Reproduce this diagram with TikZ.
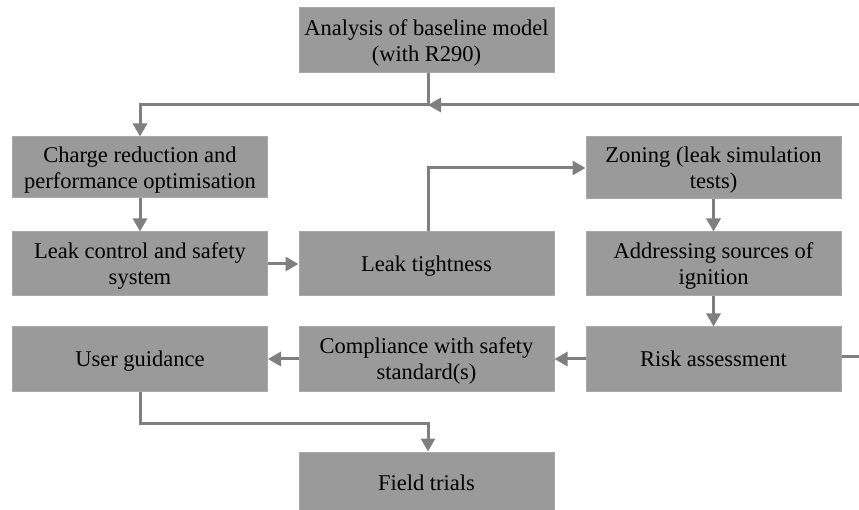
\documentclass[tikz,border=0pt]{standalone}
\usepackage{fontspec}
\setmainfont{Liberation Serif}
\usetikzlibrary{arrows.meta}
\definecolor{boxfill}{HTML}{9A9A9A}
\definecolor{boxedge}{HTML}{A8A8A8}
\definecolor{linec}{HTML}{7F7F7F}
\tikzset{
  box/.style={draw=boxedge, line width=1pt, fill=boxfill, minimum width=255pt, minimum height=62pt,
    align=center, inner sep=2pt, font=\fontsize{22.5}{26}\selectfont, text=black, text depth=0pt},
  conn/.style={draw=linec, line width=3pt},
  arr/.style={conn, -{Triangle[length=13pt,width=14pt]}}
}
\begin{document}
\begin{tikzpicture}[x=1pt,y=-1pt]
\useasboundingbox (0,0) rectangle (859,510);
\begin{scope}
\clip (0,0) rectangle (859,510);
\node[box, minimum height=65pt] (top) at (426.5,40.5) {Analysis of baseline model\\(with R290)};
\node[box, minimum height=61pt] (charge) at (140,167.5) {Charge reduction and\\performance optimisation};
\node[box, minimum height=62pt] (zoning) at (713.5,168) {Zoning (leak simulation\\tests)};
\node[box, minimum height=64pt] (leakctrl) at (140,264) {Leak control and safety\\system};
\node[box, minimum height=64pt] (tight) at (426.5,264) {Leak tightness};
\node[box, minimum height=64pt] (addr) at (713.5,264) {Addressing sources of\\ignition};
\node[box, minimum height=64pt] (user) at (140,359) {User guidance};
\node[box, minimum height=64pt] (comply) at (426.5,359) {Compliance with safety\\standard(s)};
\node[box, minimum height=64pt] (risk) at (713.5,359) {Risk assessment};
\node[box, minimum height=62pt] (field) at (426.5,483) {Field trials};

\coordinate (jtop) at (428,105);
\coordinate (redge) at (862,105);
\coordinate (redge2) at (862,357);
\coordinate (jbot) at (140,423);

\draw[arr] (top.south -| jtop) -- (jtop) -| (charge.north);
\draw[arr] (redge) -- (jtop);
\draw[conn] (risk.east |- redge2) -- (redge2);
\draw[arr] (charge) -- (leakctrl);
\draw[arr] (leakctrl) -- (tight);
\draw[arr] (tight.north -| jtop) |- (zoning.west);
\draw[arr] (zoning) -- (addr);
\draw[arr] (addr) -- (risk);
\draw[arr] (risk) -- (comply);
\draw[arr] (comply) -- (user);
\draw[arr] (user.south) -- (jbot) -| (field.north -| jtop);
\end{scope}
\end{tikzpicture}
\end{document}
